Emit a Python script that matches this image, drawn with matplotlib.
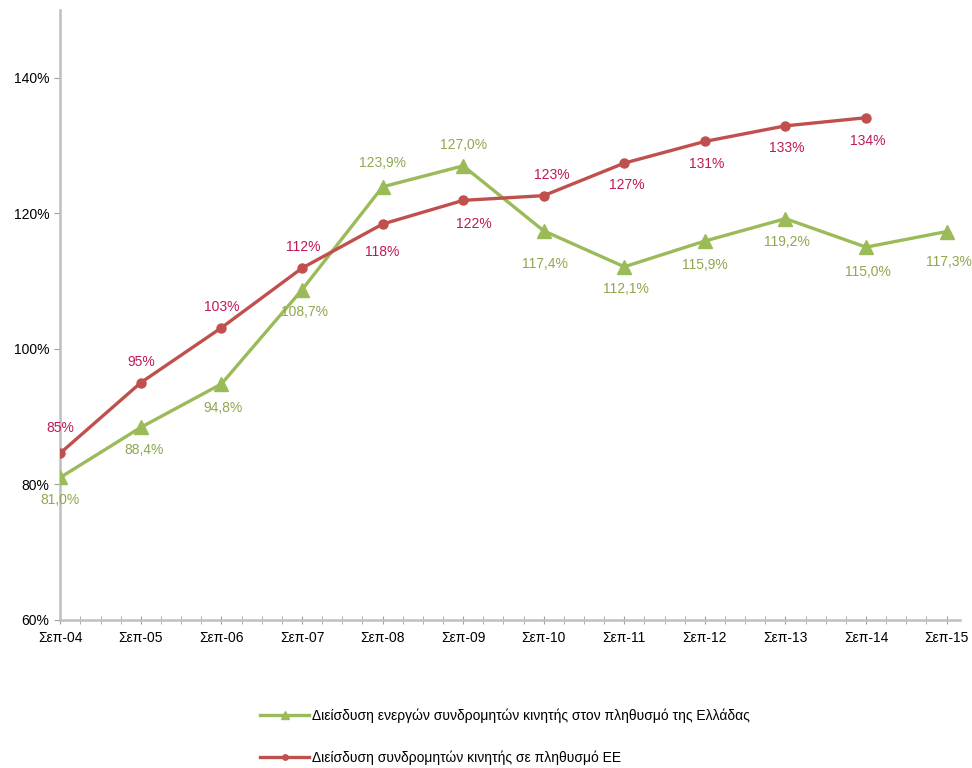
import numpy as np
import matplotlib.pyplot as plt
from matplotlib.ticker import MultipleLocator

plt.rcParams['font.family'] = ['Liberation Sans', 'DejaVu Sans']

# Data
months = ["Σεπ-04", "Σεπ-05", "Σεπ-06", "Σεπ-07", "Σεπ-08", "Σεπ-09",
          "Σεπ-10", "Σεπ-11", "Σεπ-12", "Σεπ-13", "Σεπ-14", "Σεπ-15"]
greece = [81.0, 88.4, 94.8, 108.7, 123.9, 127.0, 117.4, 112.1, 115.9, 119.2, 115.0, 117.3]
eu = [84.6, 95.0, 103.1, 111.9, 118.4, 121.9, 122.6, 127.4, 130.6, 132.9, 134.1]

greece_name = "Διείσδυση ενεργών συνδρομητών κινητής στον πληθυσμό της Ελλάδας"
eu_name = "Διείσδυση συνδρομητών κινητής σε πληθυσμό ΕΕ"

green = '#9bbb59'
red = '#c0504d'
green_txt = '#8fa84f'
red_txt = '#c0185a'

fig = plt.figure(figsize=(9.72, 7.68), dpi=100)
ax = fig.add_axes([0.062, 0.193, 0.926, 0.794])

xg = np.arange(len(greece))
xe = np.arange(len(eu))

ax.plot(xg, greece, color=green, lw=2.4, marker='^', markersize=10,
        label=greece_name, zorder=3)
ax.plot(xe, eu, color=red, lw=2.4, marker='o', markersize=6.5,
        label=eu_name, zorder=3)

# label offsets (points): negative = below
g_off = [-16, -16, -17, -16, 17, 15, -24, -16, -17, -17, -18, -22]
g_dx = [0, 2, 1, 2, 0, 0, 1, 1, 0, 1, 1, 2]
for x, v, dy, dx in zip(xg, greece, g_off, g_dx):
    ax.annotate(f"{v:.1f}%".replace('.', ','), (x, v), xytext=(dx, dy),
                textcoords='offset points', ha='center', va='center',
                fontsize=10, color=green_txt)

e_off = [18, 15, 15, 15, -20, -17, 15, -16, -16, -16, -17]
e_dx = [0, 0, 0, 1, 0, 8, 6, 2, 1, 1, 1]
for x, v, dy, dx in zip(xe, eu, e_off, e_dx):
    ax.annotate(f"{v:.0f}%", (x, v), xytext=(dx, dy),
                textcoords='offset points', ha='center', va='center',
                fontsize=10, color=red_txt)

ax.set_xlim(0, 11.17)
ax.set_ylim(60, 150)
ax.set_yticks([60, 80, 100, 120, 140])
ax.set_yticklabels([f"{t}%" for t in [60, 80, 100, 120, 140]])
ax.set_xticks(np.arange(len(months)))
ax.set_xticklabels(months)
ax.xaxis.set_minor_locator(MultipleLocator(0.25))

for s in ['top', 'right']:
    ax.spines[s].set_visible(False)
for s in ['left', 'bottom']:
    ax.spines[s].set_color('#bfbfbf')
    ax.spines[s].set_linewidth(1.8)

ax.tick_params(axis='x', which='both', direction='inout', length=6,
               color='#a0a0a0', labelsize=10, pad=5)
ax.tick_params(axis='y', which='major', direction='out', length=4,
               color='#a0a0a0', labelsize=10, pad=4)

ax.legend(loc='center left', bbox_to_anchor=(0.268, 0.041),
          bbox_transform=fig.transFigure, borderaxespad=0, borderpad=0,
          frameon=False, fontsize=10, handlelength=3.5, handletextpad=0.2,
          labelspacing=2.0, markerscale=0.6)

fig.savefig('out.png', dpi=100)
